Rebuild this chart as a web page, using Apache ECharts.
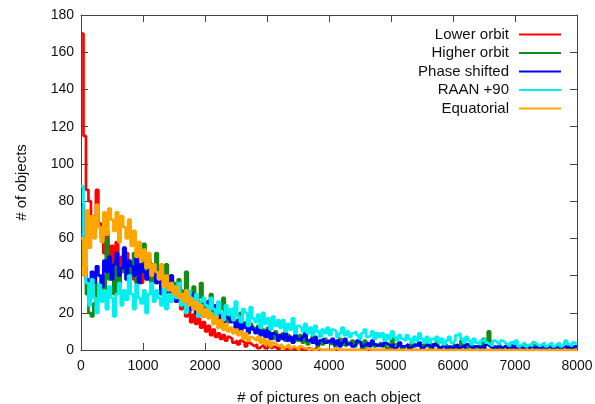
<!DOCTYPE html>
<html><head><meta charset="utf-8">
<script src="https://cdn.jsdelivr.net/npm/echarts@6/dist/echarts.min.js"></script>
<style>html,body{margin:0;padding:0;background:#fff}#c{width:595px;height:404px}</style>
</head><body><div id="c"></div>
<script>
// Histogram bins: width 40, left edges 0..7960 (200 bins), last edge 8000
const BIN_WIDTH = 40;
const seriesNames = ['Lower orbit','Higher orbit','Phase shifted','RAAN +90','Equatorial'];
const xTicks = [0,1000,2000,3000,4000,5000,6000,7000,8000];
const yTicks = [0,20,40,60,80,100,120,140,160,180];

const lowerOrbit = [
170,115,86,80,72,64,86,68,60,52,
64,48,56,45,58,44,50,42,52,40,
46,38,50,42,36,54,44,38,46,40,
36,40,32,38,30,34,28,32,26,28,
22,26,18,22,15,19,14,17,12,15,
10,13,8,11,7,9,6,8,5,7,
6,4,5,3,5,4,2,4,3,2,
3,1,2,3,1,2,1,2,1,0,
2,1,0,1,1,0,1,0,1,0,
0,1,0,0,1,0,0,0,0,0,
0,0,0,0,0,0,0,0,0,0,
0,0,0,1,0,0,0,0,0,0,
0,0,0,0,0,0,0,0,0,0,
0,0,0,0,0,0,0,0,0,0,
0,0,0,0,1,0,0,0,0,0,
0,0,0,0,0,0,0,0,0,0,
0,0,0,0,0,0,0,0,0,0,
0,0,0,0,0,0,0,0,0,0,
0,0,0,0,0,0,0,0,0,0,
0,0,0,0,0,0,0,0,0,0];

const higherOrbit = [
62,45,30,20,18,25,35,28,40,32,
60,38,45,30,48,36,42,50,38,44,
40,52,36,46,42,57,40,48,36,44,
52,38,44,34,46,30,40,36,28,38,
32,26,42,30,24,34,22,28,36,20,
26,20,30,18,24,16,22,28,14,20,
18,22,14,16,20,12,15,10,14,12,
10,13,8,11,7,12,9,6,10,8,
7,9,5,8,6,4,7,5,8,4,
6,3,5,7,4,2,5,3,6,4,
3,5,2,4,6,3,2,4,3,5,
2,4,3,1,5,2,3,4,2,3,
4,2,3,1,2,8,3,2,4,1,
2,3,1,4,2,3,2,1,3,2,
1,3,2,4,1,2,3,2,1,2,
3,1,2,5,2,1,2,3,1,2,
2,1,6,3,10,2,1,2,3,1,
2,3,1,2,4,1,2,1,3,2,
1,2,4,1,2,1,3,1,2,1,
2,1,3,1,2,4,1,2,1,2];

const phaseShifted = [
78,55,38,30,42,36,45,40,34,48,
42,50,38,46,52,40,44,55,38,48,
45,40,50,36,46,42,38,48,40,44,
36,42,30,38,34,28,40,32,26,34,
30,24,32,26,22,30,20,26,24,18,
22,26,18,20,24,16,19,14,22,17,
15,18,12,16,10,14,12,9,13,11,
9,12,8,10,7,11,6,9,8,5,
8,6,9,5,7,4,8,6,5,7,
12,5,6,4,7,3,5,6,4,5,
4,6,3,5,2,4,6,3,4,2,
3,5,4,2,3,4,2,5,3,2,
3,2,4,3,2,3,1,2,4,2,
2,3,1,2,3,2,4,1,2,3,
2,1,3,2,1,2,3,1,2,1,
2,3,1,2,1,3,2,1,2,2,
1,2,1,3,2,1,2,1,2,1,
2,1,2,1,3,1,2,1,1,2,
1,2,1,2,1,1,3,1,2,1,
1,2,1,1,2,1,3,1,2,2];

const raan90 = [
88,50,36,24,38,28,20,35,26,32,
22,34,28,18,30,36,24,32,27,40,
30,22,35,28,25,32,20,30,36,26,
32,28,24,36,22,30,26,34,28,36,
24,30,20,32,26,22,30,18,26,28,
24,20,28,22,18,26,20,16,24,19,
22,16,26,18,15,22,20,13,23,17,
15,19,12,20,14,17,11,18,13,16,
12,16,10,14,11,17,9,13,12,10,
14,9,12,8,13,10,7,11,9,12,
8,11,10,7,9,12,8,10,7,9,
10,8,6,9,11,7,8,10,6,9,
7,9,5,8,6,10,7,5,8,6,
5,8,6,4,7,5,9,6,4,7,
4,6,5,7,4,6,3,5,7,4,
5,8,9,6,4,7,5,3,6,4,
3,5,6,4,3,2,5,4,3,5,
4,3,2,4,3,5,2,3,4,2,
3,2,4,3,2,3,4,2,3,4,
2,3,4,2,3,5,3,2,4,3];

const equatorial = [
60,40,75,55,72,60,78,66,58,74,
62,76,70,64,74,58,72,66,60,70,
56,64,50,58,48,54,44,52,40,46,
42,38,46,34,40,32,36,30,34,28,
30,26,32,24,28,22,26,20,24,18,
22,17,20,14,18,12,16,11,14,10,
12,9,11,8,10,6,9,5,7,6,
5,7,4,6,3,5,2,4,3,2,
3,1,2,3,1,2,1,0,2,1,
1,0,1,0,0,1,0,0,0,0,
0,0,1,0,0,0,0,0,0,0,
0,0,0,0,0,1,0,0,0,0,
0,0,0,0,0,0,0,0,0,0,
0,0,0,0,0,0,0,0,0,0,
0,0,0,0,0,0,0,0,0,0,
0,0,0,0,0,0,0,0,0,0,
0,0,0,0,0,0,0,0,0,0,
0,0,0,0,0,0,0,0,0,0,
0,0,0,0,0,0,0,0,0,0,
0,0,0,0,0,0,0,0,0,0];

const seriesValues = [lowerOrbit, higherOrbit, phaseShifted, raan90, equatorial];
const colors = ['#ff0000','#168a16','#0000ff','#00f0f0','#ffa500'];

function toSteps(vals){
  const pts = vals.map((v,i)=>[i*BIN_WIDTH, v]);
  pts.push([vals.length*BIN_WIDTH, vals[vals.length-1]]);
  return pts;
}

const FONT = 'Liberation Sans, Arial, sans-serif';
const axisColor = '#444';
const chart = echarts.init(document.getElementById('c'), null, {renderer:'canvas'});
const common = {
  axisLine:{show:true, onZero:false, lineStyle:{color:axisColor, width:1}},
  axisTick:{show:true, inside:true, length:7, lineStyle:{color:axisColor}},
  splitLine:{show:false}
};
chart.setOption({
  animation:false,
  backgroundColor:'#fff',
  color: colors,
  grid:{left:81, right:18, top:15, bottom:54, show:false, containLabel:false, outerBoundsMode:'none'},
  legend:{
    orient:'vertical', right:29, top:22, align:'right',
    itemWidth:42, itemHeight:14, itemGap:3.5,
    textStyle:{fontFamily:FONT, fontSize:15, color:'#111', padding:[0,5,0,0]},
    data: seriesNames.map(n=>({name:n, icon:'path://M0,6L42,6L42,8L0,8Z'}))
  },
  xAxis:[
    Object.assign({type:'value', min:xTicks[0], max:xTicks[xTicks.length-1], interval:1000, position:'bottom',
      name:'# of pictures on each object', nameLocation:'middle', nameGap:40,
      nameTextStyle:{fontFamily:FONT, fontSize:15, color:'#111'},
      axisLabel:{fontFamily:FONT, fontSize:14, color:'#111', margin:9, formatter:v=>String(v)}}, common),
    Object.assign({type:'value', min:xTicks[0], max:xTicks[xTicks.length-1], interval:1000, position:'top',
      axisLabel:{show:false}}, common)
  ],
  yAxis:[
    Object.assign({type:'value', min:yTicks[0], max:yTicks[yTicks.length-1], interval:20, position:'left',
      name:'# of objects', nameLocation:'middle', nameGap:52, nameRotate:90,
      nameTextStyle:{fontFamily:FONT, fontSize:15, color:'#111'},
      axisLabel:{fontFamily:FONT, fontSize:14, color:'#111', margin:7, formatter:v=>String(v)}}, common),
    Object.assign({type:'value', min:yTicks[0], max:yTicks[yTicks.length-1], interval:20, position:'right',
      axisLabel:{show:false}}, common)
  ],
  series: seriesNames.map((n,i)=>({
    name:n, type:'line', step:'end', symbol:'none', showSymbol:false,
    xAxisIndex:0, yAxisIndex:0,
    lineStyle:{width:2.7, color:colors[i]},
    itemStyle:{color:colors[i]},
    data: toSteps(seriesValues[i]),
    z: 2+i
  }))
});
</script></body></html>
